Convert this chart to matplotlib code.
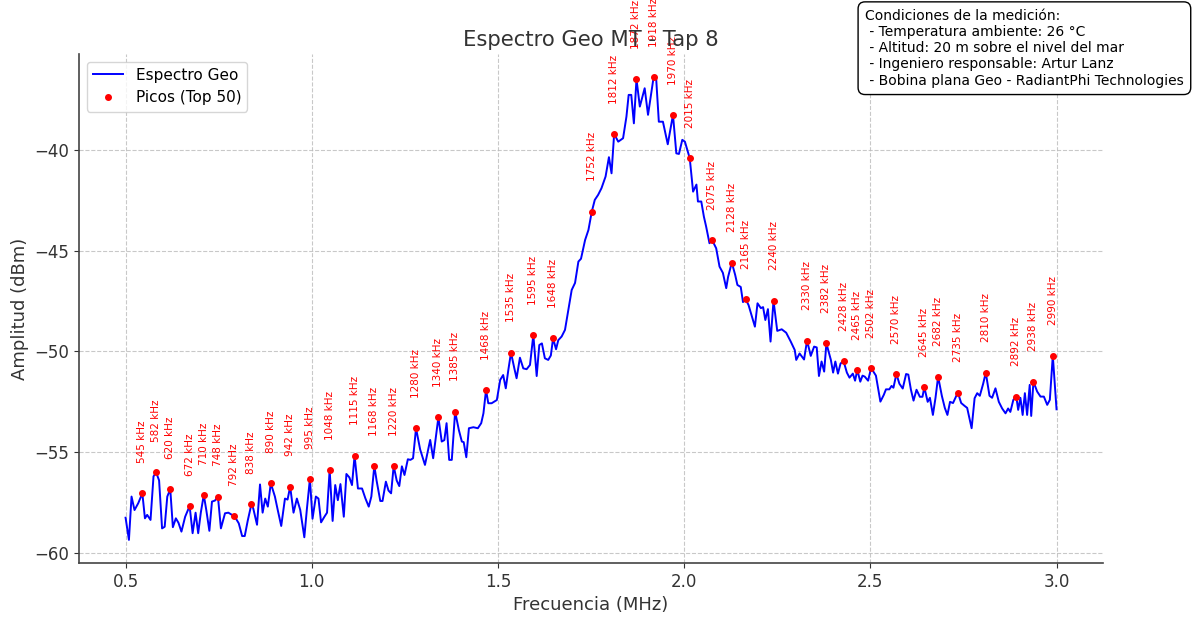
import matplotlib
matplotlib.use('Agg')
import matplotlib.pyplot as plt

# spectrum trace (MHz, dBm)
freq_mhz = [
    0.500, 0.509, 0.516, 0.524, 0.534, 0.545, 0.552, 0.558, 0.567, 0.575,
    0.582, 0.590, 0.598, 0.605, 0.612, 0.620, 0.627, 0.635, 0.642, 0.650,
    0.660, 0.672, 0.680, 0.688, 0.695, 0.702, 0.710, 0.717, 0.725, 0.732,
    0.740, 0.748, 0.756, 0.767, 0.776, 0.785, 0.792, 0.804, 0.813, 0.820,
    0.828, 0.838, 0.843, 0.853, 0.861, 0.868, 0.875, 0.882, 0.890, 0.901,
    0.909, 0.918, 0.928, 0.935, 0.942, 0.951, 0.960, 0.969, 0.980, 0.987,
    0.995, 1.002, 1.011, 1.018, 1.025, 1.034, 1.041, 1.048, 1.056, 1.063,
    1.070, 1.077, 1.086, 1.093, 1.101, 1.108, 1.115, 1.124, 1.135, 1.144,
    1.153, 1.160, 1.168, 1.174, 1.184, 1.190, 1.199, 1.206, 1.213, 1.220,
    1.228, 1.235, 1.242, 1.249, 1.258, 1.265, 1.272, 1.280, 1.291, 1.304,
    1.318, 1.326, 1.340, 1.349, 1.356, 1.362, 1.369, 1.376, 1.385, 1.395,
    1.403, 1.408, 1.415, 1.422, 1.434, 1.446, 1.455, 1.461, 1.468, 1.474,
    1.483, 1.497, 1.506, 1.514, 1.521, 1.528, 1.535, 1.544, 1.550, 1.559,
    1.568, 1.577, 1.586, 1.595, 1.604, 1.611, 1.618, 1.626, 1.635, 1.642,
    1.648, 1.656, 1.662, 1.671, 1.680, 1.689, 1.698, 1.707, 1.716, 1.723,
    1.734, 1.743, 1.752, 1.760, 1.769, 1.778, 1.789, 1.798, 1.805, 1.812,
    1.823, 1.836, 1.845, 1.851, 1.858, 1.865, 1.872, 1.881, 1.894, 1.903,
    1.918, 1.925, 1.932, 1.943, 1.956, 1.970, 1.979, 1.986, 1.995, 2.002,
    2.015, 2.024, 2.033, 2.037, 2.046, 2.053, 2.059, 2.068, 2.075, 2.086,
    2.095, 2.104, 2.113, 2.118, 2.128, 2.137, 2.143, 2.152, 2.158, 2.165,
    2.173, 2.190, 2.197, 2.206, 2.212, 2.218, 2.225, 2.232, 2.240, 2.250,
    2.262, 2.274, 2.286, 2.297, 2.301, 2.310, 2.322, 2.330, 2.340, 2.349,
    2.356, 2.362, 2.369, 2.376, 2.382, 2.394, 2.400, 2.406, 2.413, 2.420,
    2.428, 2.437, 2.444, 2.453, 2.459, 2.465, 2.473, 2.479, 2.485, 2.494,
    2.502, 2.515, 2.527, 2.536, 2.542, 2.551, 2.557, 2.562, 2.570, 2.578,
    2.587, 2.596, 2.602, 2.609, 2.616, 2.624, 2.633, 2.640, 2.645, 2.654,
    2.660, 2.668, 2.675, 2.682, 2.692, 2.700, 2.707, 2.714, 2.722, 2.735,
    2.744, 2.753, 2.760, 2.772, 2.780, 2.787, 2.794, 2.803, 2.810, 2.820,
    2.827, 2.836, 2.845, 2.854, 2.863, 2.870, 2.876, 2.884, 2.892, 2.897,
    2.903, 2.909, 2.915, 2.921, 2.928, 2.932, 2.938, 2.948, 2.957, 2.966,
    2.975, 2.982, 2.990, 3.000,
]
amp_dbm = [
    -58.25, -59.35, -57.20, -57.87, -57.53, -57.04, -58.28, -58.11, -58.36, -56.20,
    -56.00, -56.40, -58.78, -58.70, -57.20, -56.84, -58.72, -58.28, -58.50, -58.94,
    -58.20, -57.67, -59.02, -58.00, -59.02, -58.00, -57.12, -57.90, -58.90, -57.45,
    -57.40, -57.20, -58.78, -58.03, -58.00, -58.10, -58.16, -58.53, -59.16, -59.16,
    -58.40, -57.57, -57.80, -58.60, -56.60, -58.00, -57.30, -57.70, -56.54, -57.20,
    -57.90, -58.66, -57.30, -57.35, -56.71, -58.00, -57.30, -57.86, -59.22, -57.80,
    -56.33, -58.30, -57.20, -57.30, -58.48, -58.20, -58.00, -55.88, -58.41, -56.63,
    -57.38, -56.58, -58.20, -56.08, -56.25, -56.63, -55.17, -56.80, -56.80, -57.29,
    -57.70, -57.20, -55.68, -56.40, -57.42, -57.42, -56.46, -56.90, -57.04, -55.68,
    -56.40, -56.68, -55.70, -56.13, -55.35, -55.38, -55.30, -53.81, -54.86, -55.63,
    -54.39, -55.30, -53.27, -54.47, -54.40, -53.56, -55.38, -55.38, -52.99, -53.90,
    -54.47, -54.50, -55.25, -53.81, -53.76, -53.81, -53.56, -53.07, -51.91, -52.57,
    -52.57, -52.41, -51.41, -51.17, -51.83, -50.90, -50.06, -50.84, -51.33, -50.31,
    -50.84, -50.88, -50.67, -49.18, -51.22, -49.68, -49.60, -50.34, -50.42, -50.20,
    -49.35, -49.89, -49.44, -49.26, -48.93, -47.94, -46.95, -46.60, -45.54, -45.40,
    -44.47, -43.97, -43.06, -42.48, -42.23, -41.90, -41.32, -40.36, -41.16, -39.21,
    -39.59, -39.42, -38.35, -37.27, -37.27, -38.68, -36.49, -37.85, -36.94, -38.26,
    -36.39, -36.50, -38.60, -38.60, -39.72, -38.26, -40.17, -40.20, -39.50, -39.59,
    -40.41, -42.07, -41.72, -42.56, -42.56, -43.31, -43.80, -44.63, -44.47, -44.88,
    -45.79, -46.10, -46.86, -46.30, -45.59, -46.20, -46.70, -46.80, -47.55, -47.40,
    -47.70, -48.77, -47.61, -47.85, -47.80, -48.44, -47.90, -49.51, -47.48, -48.98,
    -48.90, -49.07, -49.50, -49.93, -50.42, -50.10, -50.40, -49.46, -50.22, -49.76,
    -49.80, -51.22, -50.50, -51.00, -49.60, -50.42, -51.05, -50.50, -51.10, -50.60,
    -50.47, -51.05, -51.30, -51.10, -51.45, -50.92, -51.50, -51.20, -51.25, -51.45,
    -50.82, -51.20, -52.49, -52.16, -51.88, -51.88, -51.71, -51.80, -51.12, -51.60,
    -51.84, -51.12, -51.15, -51.90, -52.44, -51.90, -52.25, -52.25, -51.78, -52.50,
    -52.30, -53.15, -52.30, -51.25, -52.20, -52.80, -53.15, -52.50, -52.56, -52.04,
    -52.56, -52.70, -52.80, -53.81, -52.32, -52.07, -52.20, -51.60, -51.05, -52.20,
    -52.30, -51.83, -52.50, -52.83, -53.07, -52.83, -53.00, -52.40, -52.24, -52.90,
    -52.30, -53.15, -52.07, -53.15, -51.66, -53.20, -51.50, -51.99, -52.24, -52.24,
    -52.65, -52.40, -50.21, -52.87,
]

# labelled peaks
peak_khz = [545, 582, 620, 672, 710, 748, 792, 838, 890, 942, 995, 1048, 1115,
            1168, 1220, 1280, 1340, 1385, 1468, 1535, 1595, 1648, 1752, 1812,
            1872, 1918, 1970, 2015, 2075, 2128, 2165, 2240, 2330, 2382, 2428,
            2465, 2502, 2570, 2645, 2682, 2735, 2810, 2892, 2938, 2990]
peak_dbm = [-57.04, -56.00, -56.84, -57.67, -57.12, -57.20, -58.16, -57.57, -56.54,
            -56.71, -56.33, -55.88, -55.17, -55.68, -55.68, -53.81, -53.27, -52.99,
            -51.91, -50.06, -49.18, -49.35, -43.06, -39.21, -36.49, -36.39, -38.26,
            -40.41, -44.47, -45.59, -47.40, -47.48, -49.46, -49.60, -50.47, -50.92,
            -50.82, -51.12, -51.78, -51.25, -52.04, -51.05, -52.24, -51.50, -50.21]

info_lines = [
    'Condiciones de la medición:',
    ' - Temperatura ambiente: 26 °C',
    ' - Altitud: 20 m sobre el nivel del mar',
    ' - Ingeniero responsable: Artur Lanz',
    ' - Bobina plana Geo - RadiantPhi Technologies',
]


def main():
    fig = plt.figure(figsize=(11.92, 6.29), dpi=100)
    ax = fig.add_axes([0.0663, 0.1049, 0.8591, 0.8092])

    ax.plot(freq_mhz, amp_dbm, color='blue', lw=1.4, label='Espectro Geo')
    peak_mhz = [k / 1000 for k in peak_khz]
    ax.plot(peak_mhz, peak_dbm, 'o', color='red', ms=4, label='Picos (Top 50)')
    for f, a, k in zip(peak_mhz, peak_dbm, peak_khz):
        ax.text(f, a + 1.5, f'{k} kHz', rotation=90, ha='center', va='bottom',
                fontsize=7.5, color='red')

    ax.set_title('Espectro Geo MT - Tap 8', fontsize=15.2, color='#333333')
    ax.set_xlabel('Frecuencia (MHz)', fontsize=13, color='#333333')
    ax.set_ylabel('Amplitud (dBm)', fontsize=13, color='#333333')
    ax.tick_params(labelsize=12, colors='#333333')
    for side in ('top', 'right'):
        ax.spines[side].set_visible(False)
    for side in ('left', 'bottom'):
        ax.spines[side].set_color('#444444')
        ax.spines[side].set_linewidth(1.2)
    ax.grid(True, linestyle='--', color='#bbbbbb', alpha=0.8)
    ax.legend(loc='upper left', fontsize=11)

    fig.text(0.7257, 0.986, '\n'.join(info_lines), ha='left', va='top', fontsize=10,
             bbox=dict(boxstyle='round,pad=0.5', facecolor='white', edgecolor='black'))

    fig.savefig('out.png', dpi=100)
    plt.close(fig)


if __name__ == '__main__':
    main()
